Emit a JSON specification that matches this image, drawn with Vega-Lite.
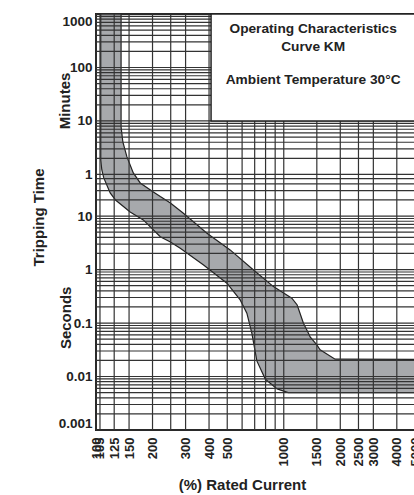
{
  "$schema": "https://vega.github.io/schema/vega-lite/v6.json",
  "width": 319,
  "height": 416,
  "autosize": {"type": "none"},
  "padding": {"left": 96, "top": 14, "right": 0, "bottom": 65},
  "background": "white",
  "config": {
    "font": "Liberation Sans",
    "view": {"stroke": "#222", "strokeWidth": 2},
    "axis": {
      "domain": false,
      "ticks": false,
      "grid": false,
      "labelFont": "Liberation Sans",
      "labelFontSize": 13.5,
      "labelFontWeight": "bold",
      "labelColor": "#222",
      "labelOverlap": false,
      "labelFlush": false,
      "titleFont": "Liberation Sans",
      "titleFontSize": 15,
      "titleFontWeight": "bold",
      "titleColor": "#222"
    }
  },
  "datasets": {
    "band": [
      {"order": 1, "current": 106, "time": 60000},
      {"order": 2, "current": 136, "time": 60000},
      {"order": 3, "current": 136, "time": 464},
      {"order": 4, "current": 139, "time": 243},
      {"order": 5, "current": 146, "time": 129},
      {"order": 6, "current": 158, "time": 64},
      {"order": 7, "current": 172, "time": 41.6},
      {"order": 8, "current": 202, "time": 28.3},
      {"order": 9, "current": 220, "time": 23.1},
      {"order": 10, "current": 249, "time": 17.6},
      {"order": 11, "current": 292, "time": 11.3},
      {"order": 12, "current": 390, "time": 4.78},
      {"order": 13, "current": 518, "time": 2.33},
      {"order": 14, "current": 690, "time": 0.984},
      {"order": 15, "current": 881, "time": 0.48},
      {"order": 16, "current": 1104, "time": 0.291},
      {"order": 17, "current": 1179, "time": 0.218},
      {"order": 18, "current": 1273, "time": 0.0993},
      {"order": 19, "current": 1327, "time": 0.0744},
      {"order": 20, "current": 1382, "time": 0.0551},
      {"order": 21, "current": 1500, "time": 0.039},
      {"order": 22, "current": 1562, "time": 0.0315},
      {"order": 23, "current": 1877, "time": 0.0211},
      {"order": 24, "current": 5000, "time": 0.021},
      {"order": 25, "current": 5000, "time": 0.005},
      {"order": 26, "current": 1055, "time": 0.005},
      {"order": 27, "current": 922, "time": 0.00588},
      {"order": 28, "current": 847, "time": 0.0075},
      {"order": 29, "current": 796, "time": 0.00904},
      {"order": 30, "current": 719, "time": 0.0196},
      {"order": 31, "current": 676, "time": 0.0646},
      {"order": 32, "current": 636, "time": 0.153},
      {"order": 33, "current": 586, "time": 0.271},
      {"order": 34, "current": 498, "time": 0.555},
      {"order": 35, "current": 374, "time": 1.22},
      {"order": 36, "current": 281, "time": 2.51},
      {"order": 37, "current": 249, "time": 3.28},
      {"order": 38, "current": 220, "time": 4.12},
      {"order": 39, "current": 178.5, "time": 8.47},
      {"order": 40, "current": 152, "time": 11.9},
      {"order": 41, "current": 127, "time": 20},
      {"order": 42, "current": 119, "time": 27.1},
      {"order": 43, "current": 110, "time": 51.7},
      {"order": 44, "current": 107.4, "time": 72.8},
      {"order": 45, "current": 106, "time": 112},
      {"order": 46, "current": 106, "time": 60000}
    ],
    "xgrid": [
      {"current": 100}, {"current": 105}, {"current": 125}, {"current": 150},
      {"current": 200}, {"current": 250}, {"current": 300}, {"current": 400},
      {"current": 500}, {"current": 600}, {"current": 700}, {"current": 800},
      {"current": 900}, {"current": 1000}, {"current": 1500}, {"current": 2000},
      {"current": 2500}, {"current": 3000}, {"current": 4000}, {"current": 5000}
    ],
    "ygrid": [
      {"time": 60000}, {"time": 54000}, {"time": 48000}, {"time": 42000}, {"time": 36000},
      {"time": 30000}, {"time": 24000}, {"time": 18000}, {"time": 12000},
      {"time": 6000}, {"time": 5400}, {"time": 4800}, {"time": 4200}, {"time": 3600},
      {"time": 3000}, {"time": 2400}, {"time": 1800}, {"time": 1200},
      {"time": 600}, {"time": 540}, {"time": 480}, {"time": 420}, {"time": 360},
      {"time": 300}, {"time": 240}, {"time": 180}, {"time": 120},
      {"time": 60}, {"time": 50}, {"time": 40}, {"time": 30}, {"time": 20},
      {"time": 10}, {"time": 9}, {"time": 8}, {"time": 7}, {"time": 6},
      {"time": 5}, {"time": 4}, {"time": 3}, {"time": 2},
      {"time": 1}, {"time": 0.9}, {"time": 0.8}, {"time": 0.7}, {"time": 0.6},
      {"time": 0.5}, {"time": 0.4}, {"time": 0.3}, {"time": 0.2},
      {"time": 0.1}, {"time": 0.09}, {"time": 0.08}, {"time": 0.07}, {"time": 0.06},
      {"time": 0.05}, {"time": 0.04}, {"time": 0.03}, {"time": 0.02},
      {"time": 0.01}, {"time": 0.009}, {"time": 0.008}, {"time": 0.007}, {"time": 0.006},
      {"time": 0.005}, {"time": 0.004}, {"time": 0.003}, {"time": 0.002},
      {"time": 0.001}
    ],
    "box": [
      {"current": 410, "current2": 5000, "time": 600, "time2": 60000}
    ],
    "boxtext": [
      {"current": 1434, "time": 31000, "text": "Operating Characteristics"},
      {"current": 1434, "time": 14700, "text": "Curve KM"},
      {"current": 1434, "time": 3500, "text": "Ambient Temperature 30°C"}
    ],
    "units": [
      {"current": 68, "time": 1419, "text": "Minutes"},
      {"current": 69.5, "time": 0.125, "text": "Seconds"}
    ]
  },
  "layer": [
    {
      "data": {"name": "band"},
      "mark": {"type": "line", "fill": "#a7a9ac", "stroke": "#222", "strokeWidth": 1.2},
      "encoding": {
        "x": {
          "field": "current",
          "type": "quantitative",
          "scale": {"type": "log", "domain": [100, 5000], "nice": false},
          "axis": {
            "values": [100, 105, 125, 150, 200, 300, 400, 500, 1000, 1500, 2000, 2500, 3000, 4000, 5000],
            "format": "d",
            "labelAngle": -90,
            "labelFontSize": 13,
            "labelPadding": 7,
            "title": "(%) Rated Current",
            "titlePadding": 12,
            "titleX": 146
          }
        },
        "y": {
          "field": "time",
          "type": "quantitative",
          "scale": {"type": "log", "domain": [0.001, 60000], "nice": false},
          "axis": {
            "values": [0.001, 0.01, 0.1, 1, 10, 60, 600, 6000, 60000],
            "labelExpr": "datum.value >= 60 ? toString(datum.value / 60) : toString(datum.value)",
            "labelPadding": 4,
            "labelFlush": true,
            "title": "Tripping Time",
            "titlePadding": 12,
            "titleY": 203
          }
        },
        "order": {"field": "order", "type": "quantitative"}
      }
    },
    {
      "data": {"name": "xgrid"},
      "mark": {"type": "rule", "stroke": "#333", "strokeWidth": 1.2},
      "encoding": {"x": {"field": "current", "type": "quantitative"}}
    },
    {
      "data": {"name": "ygrid"},
      "mark": {"type": "rule", "stroke": "#333", "strokeWidth": 1.2},
      "encoding": {"y": {"field": "time", "type": "quantitative"}}
    },
    {
      "data": {"name": "box"},
      "mark": {"type": "rect", "fill": "white", "stroke": "#222", "strokeWidth": 1.5},
      "encoding": {
        "x": {"field": "current", "type": "quantitative"},
        "x2": {"field": "current2"},
        "y": {"field": "time", "type": "quantitative"},
        "y2": {"field": "time2"}
      }
    },
    {
      "data": {"name": "boxtext"},
      "mark": {"type": "text", "font": "Liberation Sans", "fontSize": 13.7, "fontWeight": "bold", "color": "#222", "align": "center", "baseline": "middle"},
      "encoding": {
        "x": {"field": "current", "type": "quantitative"},
        "y": {"field": "time", "type": "quantitative"},
        "text": {"field": "text"}
      }
    },
    {
      "data": {"name": "units"},
      "mark": {"type": "text", "font": "Liberation Sans", "fontSize": 15, "fontWeight": "bold", "color": "#222", "angle": 270, "align": "center", "baseline": "middle"},
      "encoding": {
        "x": {"field": "current", "type": "quantitative"},
        "y": {"field": "time", "type": "quantitative"},
        "text": {"field": "text"}
      }
    }
  ]
}
